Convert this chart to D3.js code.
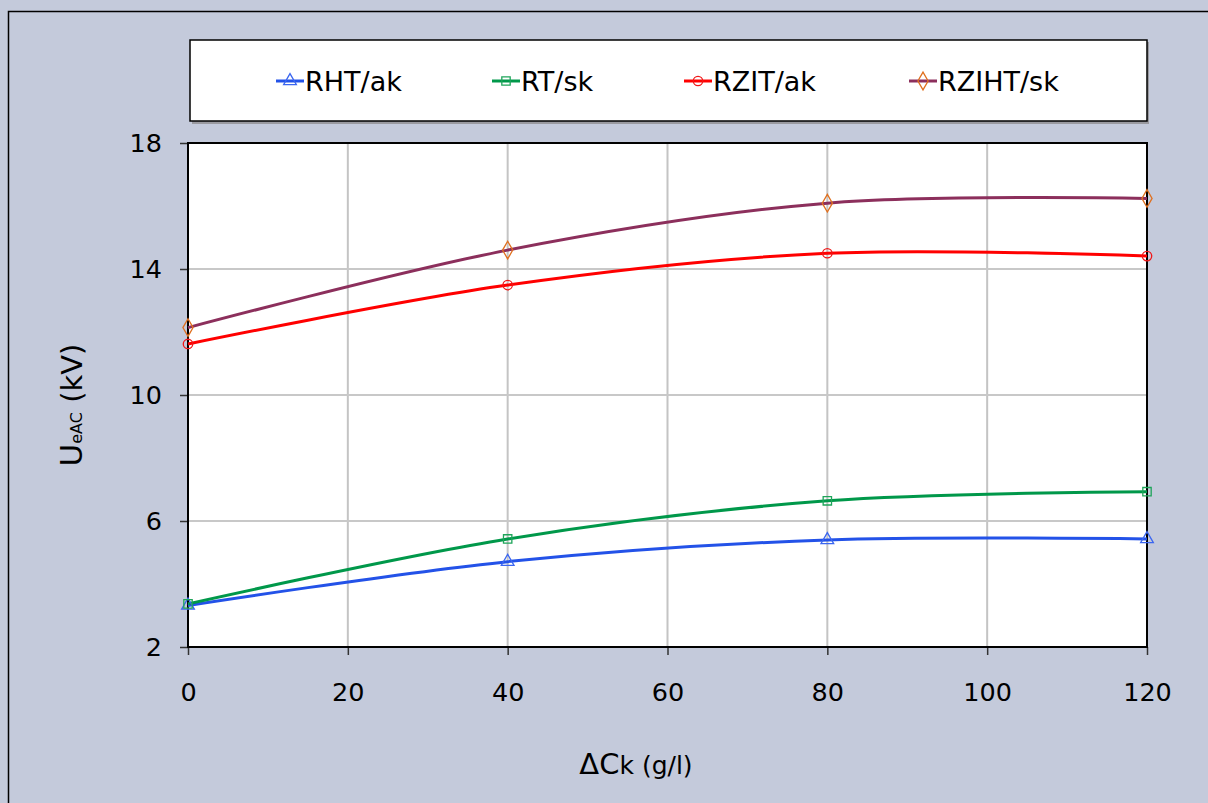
<!DOCTYPE html>
<html>
<head>
<meta charset="utf-8">
<script src="https://cdn.jsdelivr.net/npm/d3@7"></script>
<style>
  html, body { margin: 0; padding: 0; background: #C4CADB; }
  svg { display: block; font-family: "DejaVu Sans", Verdana, sans-serif; }
  svg text { font-family: "DejaVu Sans", Verdana, sans-serif; }
</style>
</head>
<body>
<svg id="chart" width="1208" height="803"></svg>
<script>
// Concentration step ΔCk (g/l)
const concentrations = [0, 40, 80, 120];

// Breakdown voltage UeAC (kV) per sample series
const seriesNames = ["RHT/ak", "RT/sk", "RZIT/ak", "RZIHT/sk"];
const rhtAk   = [3.32, 4.71, 5.40, 5.43];
const rtSk    = [3.37, 5.43, 6.64, 6.93];
const rzitAk  = [11.62, 13.49, 14.50, 14.41];
const rzihtSk = [12.14, 14.60, 16.09, 16.24];

const xTicks = [0, 20, 40, 60, 80, 100, 120];
const yTicks = [2, 6, 10, 14, 18];

const styles = [
  { line: "#2352E8", marker: "#3B66F0", shape: d3.symbolTriangle },
  { line: "#00984A", marker: "#1FA55A", shape: d3.symbolSquare },
  { line: "#FF0000", marker: "#F01818", shape: d3.symbolCircle },
  { line: "#8C2F5C", marker: "#E0701F", shape: d3.symbolDiamond }
];
const seriesValues = [rhtAk, rtSk, rzitAk, rzihtSk];
const series = seriesNames.map((name, i) => ({
  name,
  style: styles[i],
  points: concentrations.map((c, j) => ({ x: c, y: seriesValues[i][j] }))
}));

const svg = d3.select("#chart");
const plot = { left: 188, right: 1147, top: 143, bottom: 647 };

// Outer chart frame
svg.append("rect")
  .attr("x", 8.5).attr("y", 11.5)
  .attr("width", 1230).attr("height", 830)
  .attr("fill", "#C4CADB").attr("stroke", "#000").attr("stroke-width", 1.5);

const x = d3.scaleLinear().domain([0, 120]).range([plot.left, plot.right]);
const y = d3.scaleLinear().domain([2, 18]).range([plot.bottom, plot.top]);

// Plot area
svg.append("rect")
  .attr("x", plot.left).attr("y", plot.top)
  .attr("width", plot.right - plot.left).attr("height", plot.bottom - plot.top)
  .attr("fill", "#fff");

// Grid lines
const grid = svg.append("g");
grid.selectAll("line.v").data(xTicks.filter(t => t > 0 && t < 120)).join("line")
  .attr("x1", d => x(d)).attr("x2", d => x(d))
  .attr("y1", plot.top).attr("y2", plot.bottom)
  .attr("stroke", "#C4C4C4").attr("stroke-width", 2);
grid.selectAll("line.h").data(yTicks.filter(t => t > 2 && t < 18)).join("line")
  .attr("x1", plot.left).attr("x2", plot.right)
  .attr("y1", d => y(d)).attr("y2", d => y(d))
  .attr("stroke", "#C8C8C8").attr("stroke-width", 2);

// Axes
const xAxis = svg.append("g")
  .attr("transform", `translate(0,${plot.bottom})`)
  .call(d3.axisBottom(x).tickValues(xTicks).tickSize(8).tickPadding(28));
const yAxis = svg.append("g")
  .attr("transform", `translate(${plot.left},0)`)
  .call(d3.axisLeft(y).tickValues(yTicks).tickSize(8).tickPadding(18));
[xAxis, yAxis].forEach(a => {
  a.select(".domain").remove();
  a.selectAll(".tick line").attr("stroke", "#333").attr("stroke-width", 1.5);
  a.selectAll(".tick text").attr("fill", "#000")
    .attr("font-family", null)
    .style("font-size", "25.5px");
});

// Plot border
svg.append("rect")
  .attr("x", plot.left).attr("y", plot.top)
  .attr("width", plot.right - plot.left).attr("height", plot.bottom - plot.top)
  .attr("fill", "none").attr("stroke", "#000").attr("stroke-width", 2);

// Series lines (smoothed) and markers
const line = d3.line()
  .x(d => x(d.x)).y(d => y(d.y))
  .curve(d3.curveCatmullRom.alpha(0));

const symbolSize = s => (s === d3.symbolDiamond ? 90 : 70);

const sg = svg.append("g");
series.forEach(s => {
  sg.append("path").datum(s.points)
    .attr("d", line)
    .attr("fill", "none")
    .attr("stroke", s.style.line)
    .attr("stroke-width", 3);
});
series.forEach(s => {
  sg.selectAll(null).data(s.points).join("path")
    .attr("transform", d => `translate(${x(d.x)},${y(d.y)})`)
    .attr("d", d3.symbol().type(s.style.shape).size(symbolSize(s.style.shape)))
    .attr("fill", "none")
    .attr("stroke", s.style.marker)
    .attr("stroke-width", 1.3);
});

// Legend
const lg = svg.append("g");
lg.append("rect")
  .attr("x", 192).attr("y", 42).attr("width", 957).attr("height", 82)
  .attr("fill", "#9A9AA0");
lg.append("rect")
  .attr("x", 190).attr("y", 40).attr("width", 957).attr("height", 81)
  .attr("fill", "#fff").attr("stroke", "#000").attr("stroke-width", 1.5);
const legendX = [276, 492, 684, 909];
series.forEach((s, i) => {
  const g = lg.append("g").attr("transform", `translate(${legendX[i]},81)`);
  g.append("line").attr("x1", 0).attr("x2", 28).attr("y1", 0).attr("y2", 0)
    .attr("stroke", s.style.line).attr("stroke-width", 3);
  g.append("path").attr("transform", "translate(14,0)")
    .attr("d", d3.symbol().type(s.style.shape).size(symbolSize(s.style.shape)))
    .attr("fill", "none").attr("stroke", s.style.marker).attr("stroke-width", 1.3);
  g.append("text").attr("x", 29).attr("y", 10)
    .style("font-size", "27px").attr("fill", "#000").text(s.name);
});

// Axis titles
const yt = svg.append("text")
  .attr("transform", "translate(82,405) rotate(-90)")
  .attr("text-anchor", "middle")
  .attr("fill", "#000");
yt.append("tspan").style("font-size", "31px").text("U");
yt.append("tspan").style("font-size", "16px").text("eAC");
yt.append("tspan").style("font-size", "29px").text(" (kV)");

const xt = svg.append("text")
  .attr("x", 636).attr("y", 774)
  .attr("text-anchor", "middle")
  .attr("fill", "#000");
xt.append("tspan").style("font-size", "29px").text("ΔC");
xt.append("tspan").style("font-size", "25px").text("k (g/l)");
</script>
</body>
</html>
